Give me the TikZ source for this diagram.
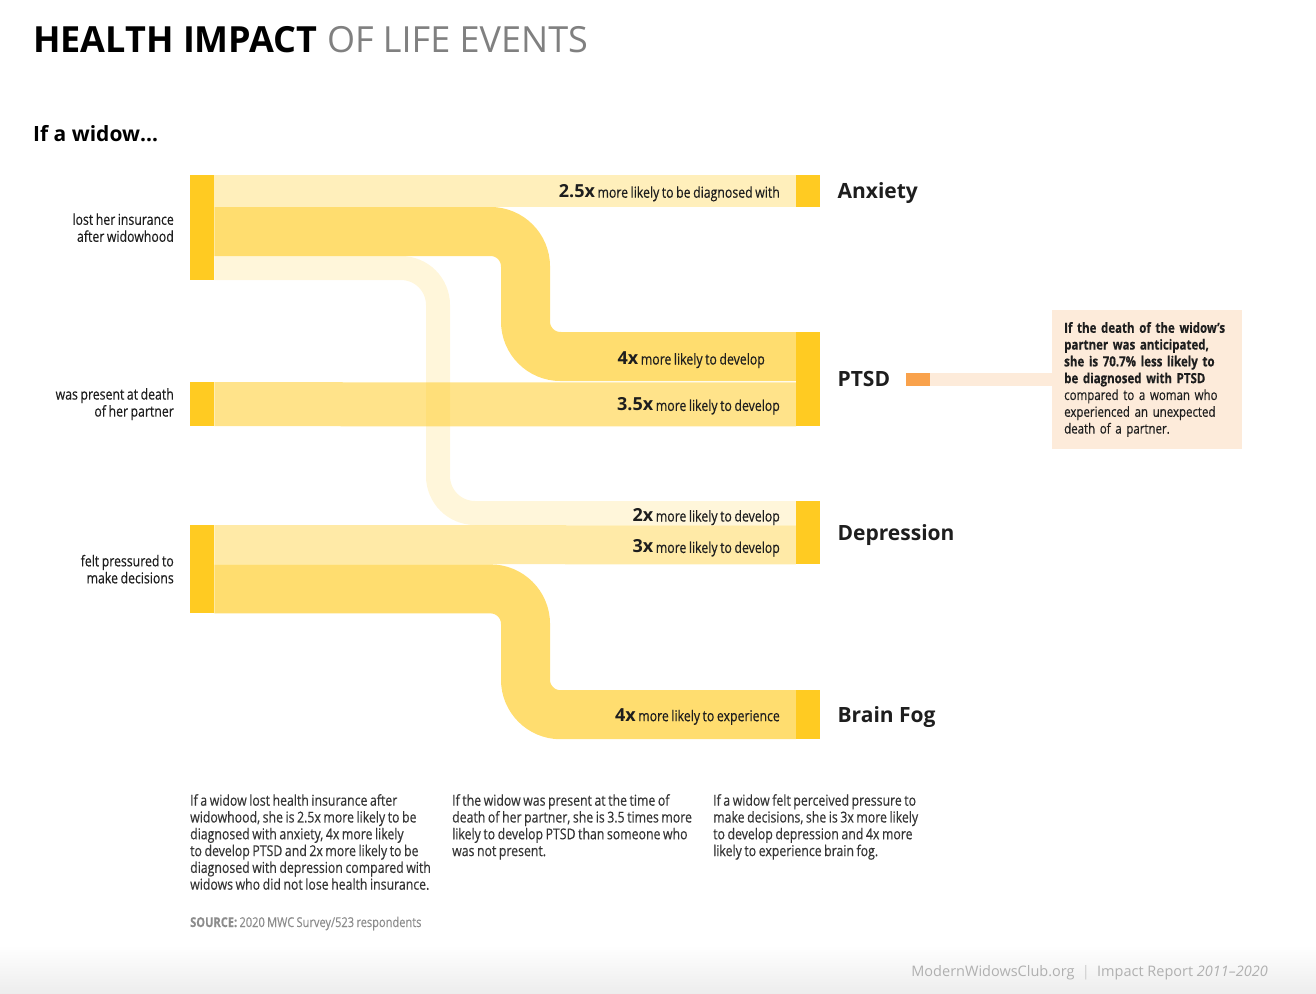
\documentclass[tikz,border=0pt]{standalone}
\usepackage{fontspec}
\setmainfont{Open Sans}
\newfontfamily\condfont{Open Sans}[FakeStretch=0.82, FakeBold=0.35, WordSpace=0.8]
\usetikzlibrary{positioning, calc}

\definecolor{barcol}{HTML}{FFCB22}
\definecolor{textcol}{HTML}{1E1E1E}
\definecolor{paracol}{HTML}{353535}
\definecolor{titlegray}{HTML}{808080}
\definecolor{srcgray}{HTML}{8C8C8C}
\definecolor{footgray}{HTML}{B0B0B0}
\definecolor{notecol}{HTML}{FDEBDA}
\definecolor{tickcol}{HTML}{F9A24C}

\newcommand\xfactor[1]{{\normalfont\bfseries\fontsize{18}{20}\selectfont #1}}

\begin{document}
\begin{tikzpicture}
  [x=1pt, y=-1pt,
  % bars
  bar/.style = {rectangle, fill=barcol, inner sep=0pt,
    minimum width=24pt, anchor=north west},
  % flows
  flow/.style = {draw=barcol, line cap=butt},
  % labels
  source/.style = {font=\condfont\fontsize{15}{17}\selectfont,
    align=right, inner sep=0pt, text=textcol},
  target/.style = {font=\bfseries\fontsize{21}{24}\selectfont,
    inner sep=0pt, text height=15pt, text depth=0pt, text=textcol},
  rate/.style = {font=\condfont\fontsize{15}{17}\selectfont,
    inner sep=0pt, text height=13pt, text depth=0pt,
    anchor=east, text=textcol},
  para/.style = {font=\condfont\fontsize{15}{16.8}\selectfont,
    align=left, inner sep=0pt, anchor=north west, text=paracol},
  notebox/.style = {fill=notecol, anchor=west,
    minimum height=139pt, inner xsep=12pt, inner ysep=0pt,
    text width=166pt, align=left, text=textcol,
    font=\condfont\fontsize{14}{16.8}\selectfont},
  ]
  \useasboundingbox (0,0) rectangle (1316,993);
  \shade [top color=white, bottom color=black!7] (0,945) rectangle (1316,993);

  % title
  \node [anchor=base west, inner sep=0pt, text=black,
    font=\fontsize{36}{40}\selectfont] (title) at (33,52)
    {\textbf{HEALTH IMPACT} \textcolor{titlegray}{OF LIFE EVENTS}};
  \node [anchor=base west, inner sep=0pt, text=black,
    font=\bfseries\fontsize{21}{24}\selectfont] (widow) at (33,141) {If a widow\dots};

  % bars
  \node [bar, minimum height=105pt] (insur) at (190,175) {};
  \node [bar, minimum height=44pt] (present) at (190,382) {};
  \node [bar, minimum height=88pt] (press) at (190,525) {};
  \node [bar, minimum height=32pt] (anx) at (796,175) {};
  \node [bar, minimum height=94pt] (ptsd) at (796,332) {};
  \node [bar, minimum height=63pt] (dep) at (796,501) {};
  \node [bar, minimum height=49pt] (fog) at (796,690) {};

  % flows
  \draw [flow, line width=32pt, opacity=.31]
    ($(insur.north east)+(0,16)$) -- ($(anx.north west)+(0,16)$);
  \draw [flow, line width=49pt, opacity=.65, rounded corners=35pt]
    ($(insur.north east)+(0,56.5)$) -| ($(ptsd.north west)+(-270.5,24.5)$)
    -- ($(ptsd.north west)+(0,24.5)$);
  \draw [flow, line width=24pt, opacity=.17, rounded corners=37pt]
    ($(insur.north east)+(0,93)$) -| ($(dep.north west)+(-358,12)$)
    -- ($(dep.north west)+(0,12)$);
  \draw [flow, line width=44pt, opacity=.53]
    (present.east) -- ($(ptsd.south west)+(0,-22)$);
  \draw [flow, line width=39pt, opacity=.40]
    ($(press.north east)+(0,19.5)$) -- ($(dep.south west)+(0,-19.5)$);
  \draw [flow, line width=49pt, opacity=.65, rounded corners=35pt]
    ($(press.south east)+(0,-24.5)$) -| ($(fog.west)+(-270.5,0)$) -- (fog.west);

  % source labels
  \node [source, left=16pt of insur] (insurtxt) {lost her insurance\\after widowhood};
  \node [source, left=16pt of present] (presenttxt) {was present at death\\of her partner};
  \node [source, left=16pt of press] (presstxt) {felt pressured to\\make decisions};

  % target labels
  \node [target, right=17pt of anx] (anxtxt) {Anxiety};
  \node [target, right=17pt of ptsd] (ptsdtxt) {PTSD};
  \node [target, right=17pt of dep] (deptxt) {Depression};
  \node [target, right=17pt of fog] (fogtxt) {Brain Fog};

  % rates
  \node [rate] (r1) at ($(anx.west)+(-16,0)$) {\xfactor{2.5x} more likely to be diagnosed with};
  \node [rate] (r2) at ($(ptsd.north west)+(-31,26)$) {\xfactor{4x} more likely to develop};
  \node [rate] (r3) at ($(ptsd.south west)+(-16,-22)$) {\xfactor{3.5x} more likely to develop};
  \node [rate] (r4) at ($(dep.north west)+(-16,14)$) {\xfactor{2x} more likely to develop};
  \node [rate] (r5) at ($(dep.south west)+(-16,-18)$) {\xfactor{3x} more likely to develop};
  \node [rate] (r6) at ($(fog.west)+(-16,0)$) {\xfactor{4x} more likely to experience};

  % PTSD note
  \node [fill=tickcol, minimum width=24pt, minimum height=13pt, inner sep=0pt,
    anchor=west] (ptsdtick) at (906,379.5) {};
  \node [notebox] (note) at (1052,379.5)
    {\textbf{If the death of the widow’s}\\
     \textbf{partner was anticipated,}\\
     \textbf{she is 70.7\% less likely to}\\
     \textbf{be diagnosed with PTSD}\\
     compared to a woman who\\
     experienced an unexpected\\
     death of a partner.};
  \draw [notecol, line width=13pt] (ptsdtick.east) -- (note.west);

  % notes below
  \node [para] (insurpara) at (190,794)
    {If a widow lost health insurance after\\
     widowhood, she is 2.5x more likely to be\\
     diagnosed with anxiety, 4x more likely\\
     to develop PTSD and 2x more likely to be\\
     diagnosed with depression compared with\\
     widows who did not lose health insurance.};
  \node [para] (presentpara) at (452,794)
    {If the widow was present at the time of\\
     death of her partner, she is 3.5 times more\\
     likely to develop PTSD than someone who\\
     was not present.};
  \node [para] (presspara) at (713,794)
    {If a widow felt perceived pressure to\\
     make decisions, she is 3x more likely\\
     to develop depression and 4x more\\
     likely to experience brain fog.};
  \node [anchor=base west, inner sep=0pt, text=srcgray,
    font=\condfont\fontsize{13.5}{15}\selectfont] (src) at (190,927)
    {\textbf{SOURCE:} 2020 MWC Survey/523 respondents};

  % footer
  \node [anchor=base east, inner sep=0pt, text=footgray,
    font=\fontsize{14.5}{16}\selectfont] (foot) at (1268,976)
    {ModernWidowsClub.org\enspace\textcolor{black!20}{|}\enspace Impact Report \textit{2011\textendash2020}};
\end{tikzpicture}
\end{document}
